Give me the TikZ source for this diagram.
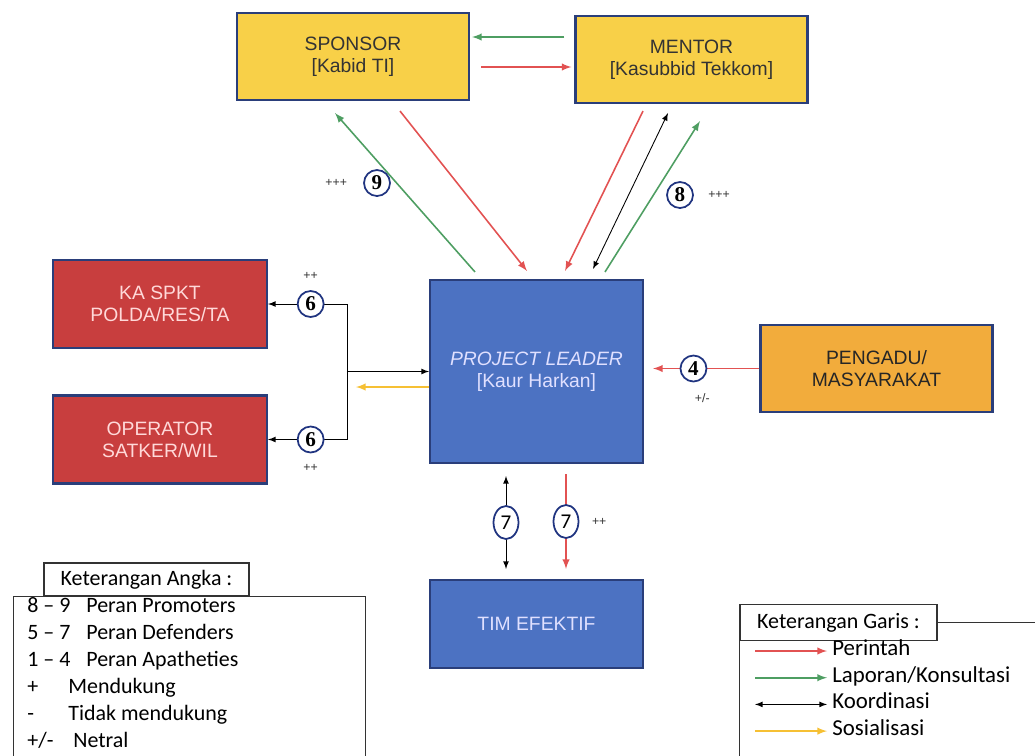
\documentclass[tikz,border=0pt]{standalone}
\usepackage{fontspec}
\setmainfont{Liberation Sans}
\newfontfamily\legfont{Carlito}
\newfontfamily\numfont{Liberation Serif}
\usetikzlibrary{arrows, calc, shapes.geometric, positioning}

\definecolor{boxline}{RGB}{42,62,122}
\definecolor{boxyellow}{RGB}{248,208,72}
\definecolor{boxorange}{RGB}{242,172,60}
\definecolor{boxred}{RGB}{200,62,62}
\definecolor{boxblue}{RGB}{76,114,194}
\definecolor{numblue}{RGB}{32,52,128}
\definecolor{lred}{RGB}{226,82,82}
\definecolor{lgreen}{RGB}{78,158,98}
\definecolor{lyellow}{RGB}{246,192,52}

\begin{document}
\begin{tikzpicture}[
  x=0.02cm, y=-0.02cm,
  box/.style={draw=boxline, line width=1.2pt, minimum width=4.64cm, minimum height=1.74cm,
    inner sep=0pt, align=center, font=\fontsize{11}{12.5}\selectfont},
  yellowbox/.style={box, fill=boxyellow, text=black!80},
  orangebox/.style={box, fill=boxorange, text=black!85},
  redbox/.style={box, fill=boxred, text=red!15!white, minimum width=4.28cm, minimum height=1.76cm},
  bluebox/.style={box, fill=boxblue, text=blue!12!white, minimum width=4.26cm},
  num/.style={circle, draw=numblue, line width=1pt, fill=white, minimum size=0.52cm,
    inner sep=0pt, font=\numfont\bfseries\fontsize{12}{12}\selectfont},
  numseven/.style={num, ellipse, minimum width=0.5cm, minimum height=0.66cm,
    font=\legfont\fontsize{12}{12}\selectfont},
  perintah/.style={draw=lred, line width=0.9pt, -latex},
  laporan/.style={draw=lgreen, line width=0.9pt, -latex},
  koordinasi/.style={draw=black, line width=0.5pt, latex-latex},
  arah/.style={draw=black, line width=0.5pt, -latex},
  sosialisasi/.style={draw=lyellow, line width=0.9pt, -latex},
  sign/.style={font=\fontsize{7}{7}\selectfont, text=black!80, inner sep=1pt},
  frame/.style={draw=black!80, line width=0.6pt},
  legtext/.style={font=\legfont\fontsize{12.5}{14}\selectfont, anchor=west, inner sep=0pt,
    text height=1.6ex, text depth=0.4ex}
]
\useasboundingbox (0,0) rectangle (1035,755);
\clip (0,0) rectangle (1035,755);

%boxes
\node[yellowbox] (sponsor) at (353,56.5) {SPONSOR\\{[Kabid TI]}};
\node[yellowbox] (mentor) at (691.5,59.5) {MENTOR\\{[Kasubbid Tekkom]}};
\node[bluebox, minimum height=3.66cm] (pl) at (536.5,371.5) {\textit{PROJECT LEADER}\\{[Kaur Harkan]}};
\node[redbox] (kaspkt) at (160,304) {KA SPKT\\POLDA/RES/TA};
\node[redbox] (operator) at (160,439.5) {OPERATOR\\SATKER/WIL};
\node[orangebox] (pengadu) at (876.5,368.5) {PENGADU/\\MASYARAKAT};
\node[bluebox, minimum height=1.76cm] (tim) at (536.5,624) {TIM EFEKTIF};

%sponsor - mentor
\draw[laporan] ($(mentor.west)+(-10,-22.5)$) -- ($(sponsor.east)+(2,-19.5)$);
\draw[perintah] ($(sponsor.east)+(11,10.5)$) -- ($(mentor.west)+(-3,7.5)$);

%top side of project leader
\draw[laporan] ($(pl.north)+(-61.5,-7)$) -- ($(sponsor.south)+(-18,12)$);
\draw[perintah] ($(sponsor.south)+(47,10)$) -- ($(pl.north)+(-9.5,-8)$);
\draw[perintah] ($(mentor.south)+(-48.5,7)$) -- ($(pl.north)+(28.5,-8)$);
\draw[koordinasi] ($(mentor.south)+(-23.5,9)$) -- ($(pl.north)+(56.5,-10)$);
\draw[laporan] ($(pl.north)+(68.5,-7)$) -- ($(mentor.south)+(8.5,17)$);

\node[num] (nine) at (377,183) {9};
\node[sign, left=8pt of nine] (ninesign) {+++};
\node[num] (eight) at (680,195) {8};
\node[sign, right=7pt of eight] (eightsign) {+++};

%left side
\coordinate (jn) at ($(pl.west)+(-82,0)$);
\draw[arah] (jn) |- node[num, pos=0.73] (sixa) {6} (kaspkt.east);
\draw[arah] (jn) |- node[num, pos=0.73] (sixb) {6} (operator.east);
\draw[arah] (jn) -- (pl.west);
\draw[sosialisasi] ($(pl.west)+(0,15.5)$) -- ($(jn)+(9,15.5)$);
\node[sign, above=5pt of sixa] (sixasign) {++};
\node[sign, below=5pt of sixb] (sixbsign) {++};

%right side
\draw[perintah] (pengadu.west) -- node[num, pos=0.62] (four) {4} ($(pl.east)+(9,-3)$);
\node[sign, below=5pt of four, xshift=5pt] (foursign) {+/-};

%bottom
\draw[koordinasi] ($(pl.south)+(-30.5,12)$) -- node[numseven] (sevena) {7} ($(tim.north)+(-30.5,-10)$);
\draw[perintah] ($(pl.south)+(29.5,10)$) -- node[numseven] (sevenb) {7} ($(tim.north)+(29.5,-10)$);
\node[sign, right=6pt of sevenb] (sevensign) {++};

%legend numbers
\node[frame, draw, fill=white, minimum width=4.1cm, minimum height=0.66cm, inner sep=0pt,
  font=\legfont\fontsize{12.5}{14}\selectfont] (angkatab) at (146.5,579.5) {Keterangan Angka :};
\draw[frame] ($(angkatab.south west)+(-30,0)$) rectangle ($(angkatab.south east)+(116,200)$);
\foreach \k/\t/\dx [count=\i] in {8 – 9/Peran Promoters/59, 5 – 7/Peran Defenders/59,
  1 – 4/Peran Apatheties/59, +/Mendukung/41, -/Tidak mendukung/41, {+/-}/Netral/46}
{
  \node[legtext] (angka\i) at (27,{579.5+27*\i}) {\k};
  \node[legtext] (peran\i) at ({27+\dx},{579.5+27*\i}) {\t};
}

%legend lines
\node[frame, draw, fill=white, minimum width=3.94cm, minimum height=0.72cm, inner sep=0pt,
  font=\legfont\fontsize{12.5}{14}\selectfont] (garistab) at (838.5,622.5) {Keterangan Garis :};
\draw[frame] (garistab.east) -- ++(120,0);
\draw[frame] (garistab.south west) -- ++(0,130);
\foreach \s/\t [count=\i] in {perintah/Perintah, laporan/{Laporan/Konsultasi},
  koordinasi/Koordinasi, sosialisasi/Sosialisasi}
{
  \node[legtext, font=\legfont\fontsize{13}{14}\selectfont] (garis\i) at (832,{623.3+26.7*\i}) {\t};
  \draw[\s] ($(garis\i.west)+(-77,1)$) -- ($(garis\i.west)+(-5,1)$);
}

\end{tikzpicture}
\end{document}
